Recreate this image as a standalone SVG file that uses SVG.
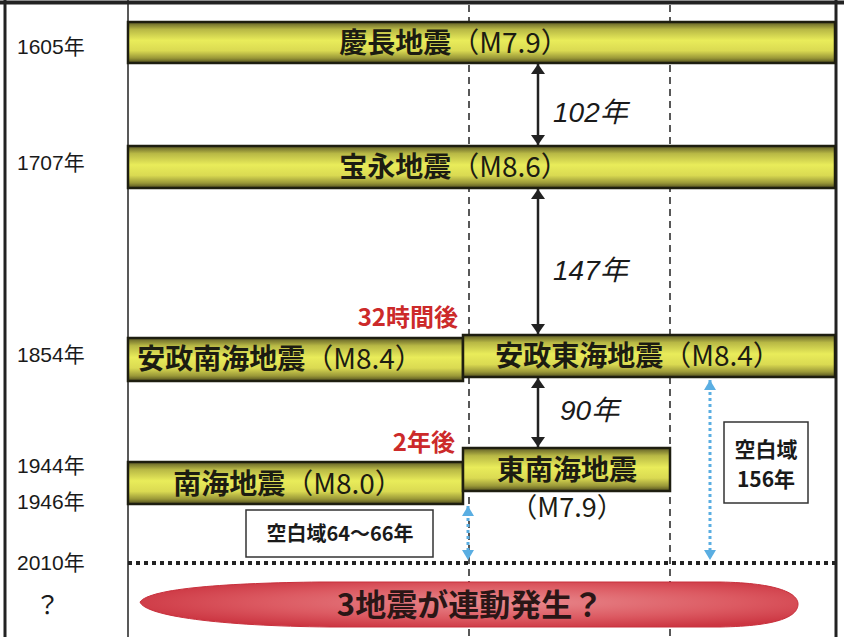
<svg xmlns="http://www.w3.org/2000/svg" width="844" height="637" viewBox="0 0 844 637">
<defs>
<linearGradient id="bar" x1="0" y1="0" x2="0" y2="1">
<stop offset="0" stop-color="#5e5c26"/>
<stop offset="0.18" stop-color="#b8b845"/>
<stop offset="0.45" stop-color="#e9ec5a"/>
<stop offset="0.7" stop-color="#dada52"/>
<stop offset="0.88" stop-color="#9a9838"/>
<stop offset="1" stop-color="#4e4c1e"/>
</linearGradient>
<radialGradient id="red" cx="0.55" cy="0.45" r="0.6">
<stop offset="0" stop-color="#e98a8e"/>
<stop offset="0.6" stop-color="#dc5a62"/>
<stop offset="1" stop-color="#cc3642"/>
</radialGradient>
<marker id="ah" viewBox="0 0 10 14" refX="10" refY="7" markerWidth="10" markerHeight="14" markerUnits="userSpaceOnUse" orient="auto-start-reverse">
<path d="M0,0 L10,7 L0,14 Z" fill="#222"/>
</marker>
<marker id="bh" viewBox="0 0 10 12" refX="10" refY="6" markerWidth="10" markerHeight="12" markerUnits="userSpaceOnUse" orient="auto-start-reverse">
<path d="M0,0 L10,6 L0,12 Z" fill="#5aaee2"/>
</marker>
</defs>
<style>
.bar{fill:url(#bar);stroke:#1e1e10;stroke-width:2.5}
.bt{font-family:"Noto Sans CJK JP","Liberation Sans",sans-serif;font-weight:700;font-size:28px;fill:#1c1c12;text-anchor:middle}
.m{font-weight:400}
.yr{font-family:"Liberation Sans","Noto Sans CJK JP",sans-serif;font-size:21px;fill:#1a1a1a}
.gap{font-family:"Liberation Sans","Noto Sans CJK JP",sans-serif;font-style:italic;font-size:28px;fill:#1a1a1a}
.red{font-family:"Noto Sans CJK JP","Liberation Sans",sans-serif;font-weight:700;font-size:24px;fill:#cc2a2a;text-anchor:end}
.box{fill:#fff;stroke:#333;stroke-width:1.5}
.bx{font-family:"Noto Sans CJK JP","Liberation Sans",sans-serif;font-weight:700;font-size:20px;fill:#1a1a1a;text-anchor:middle}
.arr{stroke:#222;stroke-width:2.5;fill:none;marker-start:url(#ah);marker-end:url(#ah)}
.barr{stroke:#5aaee2;stroke-width:3;stroke-dasharray:3 3;fill:none;marker-start:url(#bh);marker-end:url(#bh)}
.dash{stroke:#222;stroke-width:1.5;stroke-dasharray:7 5}
</style>
<rect width="844" height="637" fill="#fff"/>
<g id="frame">
<line x1="0" y1="2.5" x2="844" y2="2.5" stroke="#222" stroke-width="4"/>
<line x1="5" y1="0" x2="5" y2="637" stroke="#222" stroke-width="3"/>
<line x1="836" y1="0" x2="836" y2="637" stroke="#222" stroke-width="3"/>
<line x1="128" y1="0" x2="128" y2="637" stroke="#222" stroke-width="1.5"/>
<line class="dash" x1="469" y1="5" x2="469" y2="637"/>
<line class="dash" x1="670" y1="5" x2="670" y2="637"/>
<line x1="128" y1="563" x2="836" y2="563" stroke="#222" stroke-width="4" stroke-dasharray="4 4"/>
</g>
<g id="years">
<text class="yr" x="17" y="54">1605年</text>
<text class="yr" x="17" y="170">1707年</text>
<text class="yr" x="17" y="362">1854年</text>
<text class="yr" x="17" y="473">1944年</text>
<text class="yr" x="17" y="509">1946年</text>
<text class="yr" x="17" y="570">2010年</text>
<text class="yr" x="35" y="614" style="font-size:25px">？</text>
</g>
<g id="keicho">
<rect class="bar" x="128" y="22" width="707" height="41"/>
<text class="bt" x="454" y="53">慶長地震<tspan class="m">（M7.9）</tspan></text>
</g>
<g id="hoei">
<rect class="bar" x="128" y="146" width="707" height="42"/>
<text class="bt" x="454" y="177">宝永地震<tspan class="m">（M8.6）</tspan></text>
</g>
<g id="ansei-nankai">
<rect class="bar" x="128" y="338" width="335" height="43"/>
<text class="bt" x="280" y="369">安政南海地震<tspan class="m">（M8.4）</tspan></text>
</g>
<g id="ansei-tokai">
<rect class="bar" x="463" y="335" width="372" height="42"/>
<text class="bt" x="638" y="366">安政東海地震<tspan class="m">（M8.4）</tspan></text>
</g>
<g id="nankai">
<rect class="bar" x="128" y="462" width="335" height="42"/>
<text class="bt" x="288" y="494">南海地震<tspan class="m">（M8.0）</tspan></text>
</g>
<g id="tonankai">
<rect class="bar" x="463" y="448" width="207" height="43"/>
<text class="bt" x="567" y="480">東南海地震</text>
<text class="bt m" x="567" y="517" style="font-weight:400;font-size:27px">（M7.9）</text>
</g>
<g id="labels">
<text class="gap" x="553" y="122">102年</text>
<text class="gap" x="553" y="280">147年</text>
<text class="gap" x="560" y="420">90年</text>
<text class="red" x="458" y="326">32時間後</text>
<text class="red" x="455" y="451">2年後</text>
</g>
<g id="gap-box-1">
<rect class="box" x="246" y="510" width="187" height="47"/>
<text class="bx" x="340" y="541">空白域64～66年</text>
</g>
<g id="gap-box-2">
<rect class="box" x="724" y="422" width="84" height="81"/>
<text class="bx" x="766" y="457" style="font-size:21px">空白域</text>
<text class="bx" x="766" y="487" style="font-size:21px">156年</text>
</g>
<g id="connectors">
<line class="arr" x1="538" y1="64" x2="538" y2="145"/>
<line class="arr" x1="538" y1="189" x2="538" y2="334"/>
<line class="arr" x1="538" y1="378" x2="538" y2="447"/>
<line class="barr" x1="468" y1="506" x2="468" y2="560"/>
<line class="barr" x1="710" y1="380" x2="710" y2="560"/>
</g>
<g id="future">
<path d="M140,602 C150,588 230,583 320,582 L720,582 C780,583 798,594 798,604 C798,616 780,626 720,627 L330,627 C220,626 145,616 140,602 Z" fill="url(#red)" stroke="#c8303c" stroke-width="1"/>
<text x="470" y="616" style="font-family:'Noto Sans CJK JP','Liberation Sans',sans-serif;font-weight:700;font-size:31px;fill:#2a1616;text-anchor:middle">3地震が連動発生？</text>
</g>
</svg>
